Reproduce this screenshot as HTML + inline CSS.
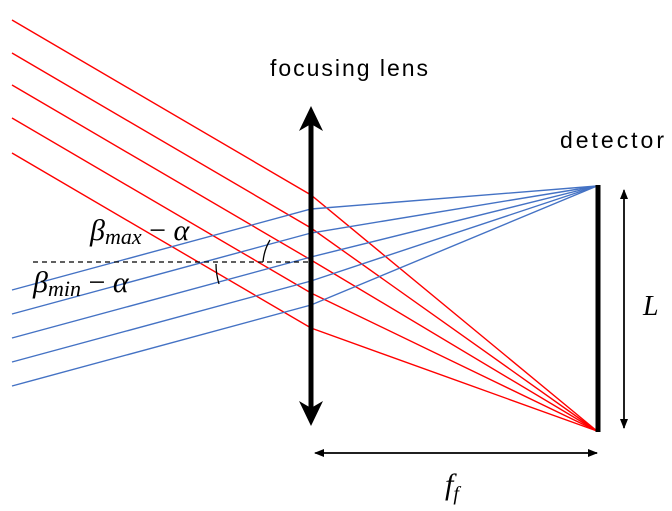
<!DOCTYPE html>
<html><head><style>body{margin:0;background:#fff}svg{display:block}</style></head><body>
<svg width="672" height="511" viewBox="0 0 672 511" xmlns="http://www.w3.org/2000/svg">
<defs>
<marker id="a" markerWidth="10" markerHeight="10" refX="9" refY="5" orient="auto" markerUnits="userSpaceOnUse"><path d="M0,1 L10,5 L0,9 Z" fill="#000"/></marker>
</defs>
<g stroke="#ff0000" stroke-width="1.4" fill="none">
<polyline points="12,20 311,195 597,431"/>
<polyline points="12,53 311,228 597,431"/>
<polyline points="12,85 311,260 597,431"/>
<polyline points="12,118 311,293 597,431"/>
<polyline points="12,153 311,328 597,431"/>
</g>
<g stroke="#4472c4" stroke-width="1.4" fill="none">
<polyline points="12,290 311,209 597,186"/>
<polyline points="12,314 311,233 597,186"/>
<polyline points="12,338 311,257 597,186"/>
<polyline points="12,362 311,281 597,186"/>
<polyline points="12,386 311,305 597,186"/>
</g>
<line x1="33" y1="262" x2="311" y2="262" stroke="#000" stroke-width="1.2" stroke-dasharray="5,4"/>
<path d="M263,262 Q264,250 270,240" stroke="#000" stroke-width="1.3" fill="none"/>
<path d="M216,264 Q216,274 219,284" stroke="#000" stroke-width="1.3" fill="none"/>
<line x1="311" y1="120" x2="311" y2="412" stroke="#000" stroke-width="5"/>
<path d="M311,106 L299,131 L311,124 L323,131 Z" fill="#000"/>
<path d="M311,426 L299,401 L311,408 L323,401 Z" fill="#000"/>
<line x1="598" y1="185" x2="598" y2="432" stroke="#000" stroke-width="5"/>
<line x1="624" y1="192" x2="624" y2="428" stroke="#000" stroke-width="1.5" marker-end="url(#a)"/>
<line x1="624" y1="428" x2="624" y2="190" stroke="#000" stroke-width="1.5" marker-end="url(#a)"/>
<line x1="318" y1="453" x2="597" y2="453" stroke="#000" stroke-width="1.5" marker-end="url(#a)"/>
<line x1="597" y1="453" x2="315" y2="453" stroke="#000" stroke-width="1.5" marker-end="url(#a)"/>
<g font-family="Liberation Sans, sans-serif" font-size="23" fill="#000">
<text x="349" y="76" text-anchor="middle" textLength="158">focusing lens</text>
<text x="560" y="148" textLength="104">detector</text>
</g>
<g font-family="Liberation Serif, serif" font-style="italic" fill="#000">
<text x="90" y="240" font-size="30">β<tspan font-size="22" dy="4">max</tspan><tspan dy="-4" font-style="normal"> − </tspan>α</text>
<text x="33" y="292" font-size="30">β<tspan font-size="22" dy="4">min</tspan><tspan dy="-4" font-style="normal"> − </tspan>α</text>
<text x="643" y="315" font-size="28">L</text>
<text x="445" y="494" font-size="30">f<tspan font-size="20" dy="6">f</tspan></text>
</g>
</svg>
</body></html>
